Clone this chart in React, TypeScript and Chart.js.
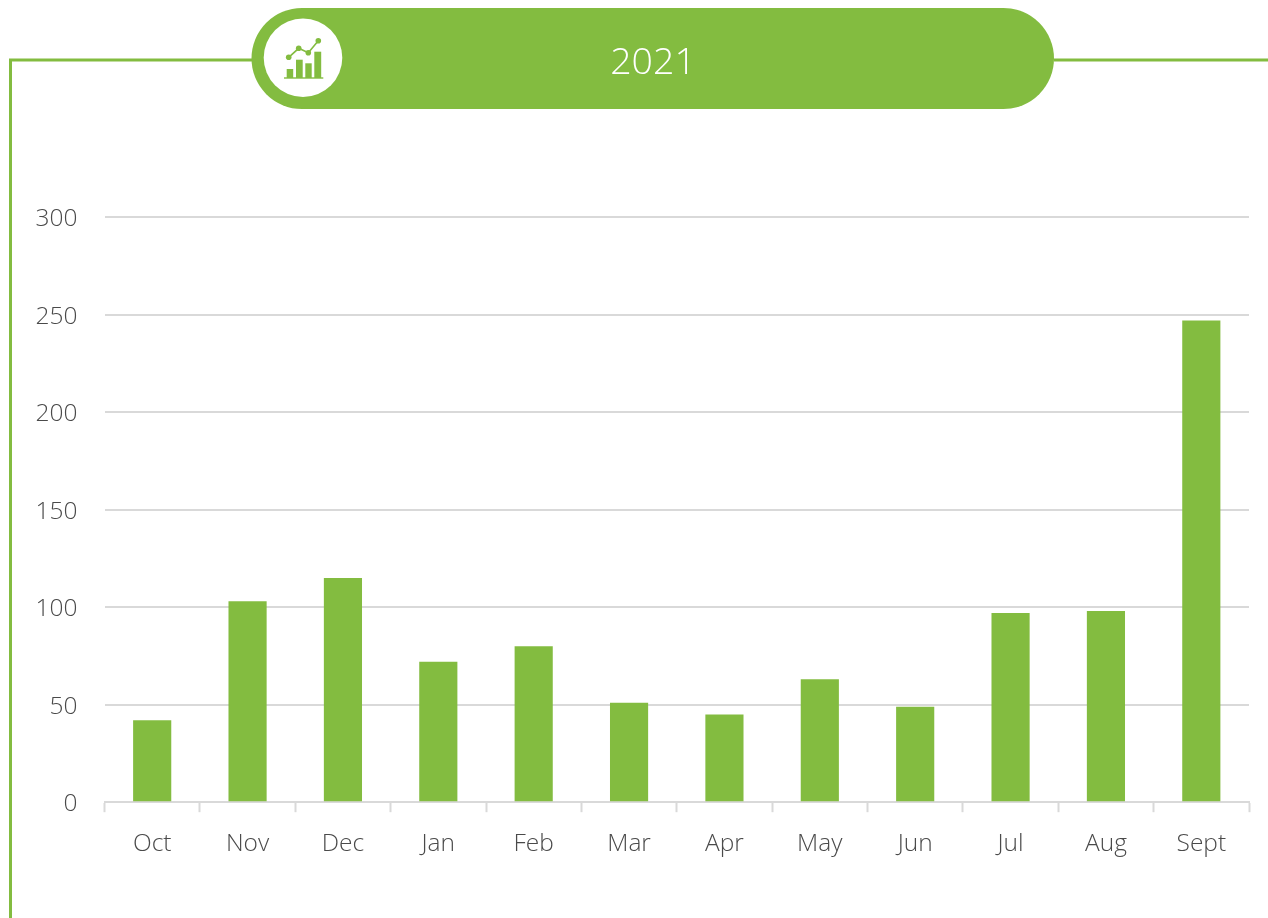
import React, { useEffect, useRef } from "react";
import { Chart, registerables } from "chart.js";

Chart.register(...registerables);

const categories = ["Oct", "Nov", "Dec", "Jan", "Feb", "Mar", "Apr", "May", "Jun", "Jul", "Aug", "Sept"];
const values = [42, 103, 115, 72, 80, 51, 45, 63, 49, 97, 98, 247];
const title = "2021";
const GREEN = "#83bc40";
const GRID = "#d9d9d9";
const TEXT = "#4a4a4a";
const FONT = '"Open Sans", "Noto Sans", sans-serif';

export default function App() {
  const ref = useRef<HTMLCanvasElement | null>(null);
  useEffect(() => {
    if (!ref.current) return;
    const chart = new Chart(ref.current, {
      type: "bar",
      data: {
        labels: categories,
        datasets: [{ data: values, backgroundColor: GREEN, barPercentage: 0.4, categoryPercentage: 1 }],
      },
      options: {
        animation: false,
        responsive: false,
        plugins: { legend: { display: false }, tooltip: { enabled: false } },
        layout: { padding: { top: 217.2, right: 19, bottom: 0, left: 0 } },
        scales: {
          x: {
            offset: true,
            grid: { offset: true, drawOnChartArea: false, drawTicks: true, tickLength: 10, tickColor: GRID, tickWidth: 2 },
            border: { color: GRID, width: 2 },
            ticks: { color: TEXT, font: { family: FONT, size: 24.5, weight: "300" }, padding: 17, maxRotation: 0, autoSkip: false },
            afterFit: (s: any) => { s.height = 115.8; },
          },
          y: {
            min: 0,
            max: 300,
            grid: { color: GRID, lineWidth: 2, drawTicks: false },
            border: { display: false },
            ticks: {
              stepSize: 50,
              color: TEXT,
              font: { family: FONT, size: 24.5, weight: "300", lineHeight: "4px" },
              padding: 27,
              // An empty first line nudges each label just below its gridline, as in the reference.
              callback: (v: any) => ["", String(v)],
            },
            afterFit: (s: any) => { s.width = 104.5; },
          },
        },
      },
    } as any);
    return () => chart.destroy();
  }, []);

  return (
    <div style={{ position: "fixed", left: 0, top: 0, width: 1268, height: 918, overflow: "hidden", background: "#fff" }}>
      <canvas ref={ref} width={1268} height={918} style={{ position: "absolute", left: 0, top: 0, display: "block" }} />
      <svg width={1268} height={918} style={{ position: "absolute", left: 0, top: 0 }}>
        <path d="M10.5 918 V60 H252 M1054 60 H1268" fill="none" stroke={GREEN} strokeWidth={3} />
        <rect x={251.5} y={8} width={802.5} height={101} rx={50.5} fill={GREEN} />
        <circle cx={303} cy={57.7} r={39.3} fill="#fff" />
        <g fill={GREEN} stroke="none">
          <rect x={286.7} y={69} width={6.5} height={9} />
          <rect x={296} y={59.7} width={6.7} height={18.3} />
          <rect x={305.3} y={63.3} width={6.4} height={14.7} />
          <rect x={314.3} y={51.7} width={6.9} height={26.3} />
          <rect x={284} y={77.3} width={39.3} height={1.4} />
          <circle cx={288.7} cy={57.3} r={2.8} />
          <circle cx={298.7} cy={48.3} r={2.8} />
          <circle cx={308.3} cy={52.7} r={2.8} />
          <circle cx={318.3} cy={40.7} r={2.8} />
        </g>
        <polyline points="288.7,57.3 298.7,48.3 308.3,52.7 318.3,40.7" fill="none" stroke={GREEN} strokeWidth={1.6} />
      </svg>
      <div style={{ position: "absolute", left: 553, top: 34, width: 200, height: 52, lineHeight: "52px", textAlign: "center", color: "#fff", fontFamily: FONT, fontWeight: 300, fontSize: 37.5 }}>
        {title}
      </div>
    </div>
  );
}
